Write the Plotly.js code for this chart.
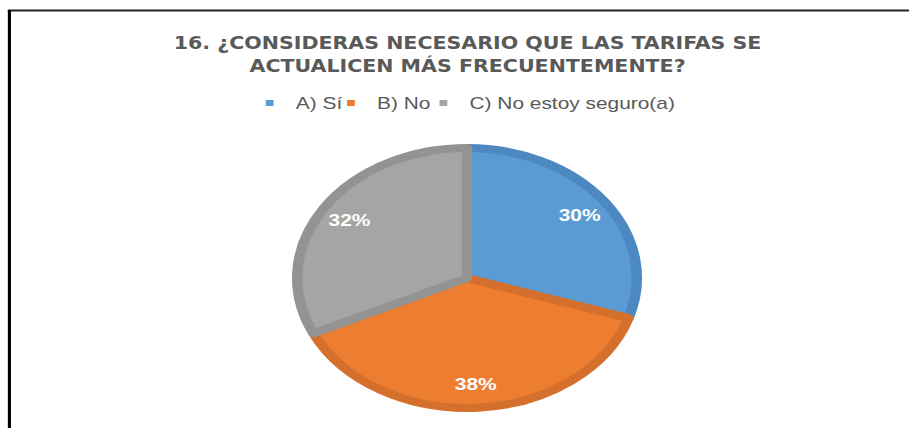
<!DOCTYPE html>
<html><head><meta charset="utf-8">
<script src="https://cdn.plot.ly/plotly-3.0.1.min.js"></script>
<style>
html,body{margin:0;padding:0;background:#fff;overflow:hidden;}
#wrap{width:909px;height:428px;overflow:hidden;position:relative;background:#fff;}
#chart{width:696px;height:428px;transform:scaleX(1.306);transform-origin:0 0;}
</style></head>
<body><div id="wrap"><div id="chart"></div></div>
<script>
const categories = ['A) Sí', 'B) No', 'C) No estoy seguro(a)'];
const values = [30, 38, 32];
const titleText = '16. ¿CONSIDERAS NECESARIO QUE LAS TARIFAS SE<br>ACTUALICEN MÁS FRECUENTEMENTE?';

const fillColors = ['#5B9BD5', '#ED7D31', '#A5A5A5'];
const lineColors = ['#4E88C0', '#D4702C', '#939393'];
const legendLefts = [186.5, 248.7, 319.5];

const W = 696, H = 428;
const cx = 357.6, cy = 278, r = 130;
const pieDomain = {x: [(cx - r) / W, (cx + r) / W], y: [1 - (cy + r) / H, 1 - (cy - r) / H]};

const pieFill = {
  type: 'pie',
  labels: categories,
  values: values,
  sort: false,
  direction: 'clockwise',
  rotation: 0,
  marker: {colors: fillColors, line: {color: lineColors, width: 8}},
  textinfo: 'none',
  hoverinfo: 'none',
  showlegend: false,
  domain: pieDomain
};

const pieText = {
  type: 'pie',
  labels: categories,
  values: values,
  sort: false,
  direction: 'clockwise',
  rotation: 0,
  hole: 0.64,
  marker: {colors: ['rgba(0,0,0,0)', 'rgba(0,0,0,0)', 'rgba(0,0,0,0)'], line: {width: 0}},
  textinfo: 'percent',
  texttemplate: '%{percent:.0%}',
  textposition: 'inside',
  insidetextorientation: 'horizontal',
  insidetextfont: {family: 'Liberation Sans, Arial, sans-serif', size: 16, color: '#FFFFFF', weight: 'bold'},
  hoverinfo: 'none',
  showlegend: false,
  domain: pieDomain
};

const legendNames = ['legend', 'legend2', 'legend3'];
const legendTraces = categories.map((c, i) => ({
  type: 'scatter',
  mode: 'markers',
  x: [null], y: [null],
  name: c,
  legend: legendNames[i],
  marker: {symbol: 'square', size: 6, color: fillColors[i]},
  hoverinfo: 'none',
  showlegend: true
}));

const layout = {
  width: W, height: H,
  margin: {l: 0, r: 0, t: 0, b: 0},
  paper_bgcolor: '#FFFFFF',
  plot_bgcolor: '#FFFFFF',
  xaxis: {visible: false},
  yaxis: {visible: false},
  title: {
    text: titleText,
    x: 358 / W, xanchor: 'center',
    y: 1 - 49 / H, yanchor: 'top',
    font: {family: '"DejaVu Sans Condensed", "Liberation Sans", sans-serif', size: 17.5, color: '#595959', weight: 'bold'}
  },
  showlegend: true,
  shapes: [
    {type: 'line', xref: 'paper', yref: 'paper', x0: 6 / W, x1: 1, y0: 1 - 10.5 / H, y1: 1 - 10.5 / H, line: {color: '#222222', width: 2}},
    {type: 'line', xref: 'paper', yref: 'paper', x0: 7.2 / W, x1: 7.2 / W, y0: 0, y1: 1 - 10 / H, line: {color: '#000000', width: 2.4}}
  ]
};

legendNames.forEach((name, i) => {
  layout[name] = {
    orientation: 'h',
    x: legendLefts[i] / W, xanchor: 'left',
    y: 1 - 103 / H, yanchor: 'middle',
    font: {family: 'Liberation Sans, Arial, sans-serif', size: 16, color: '#595959'},
    itemsizing: 'trace',
    itemclick: false,
    bgcolor: 'rgba(0,0,0,0)'
  };
});

Plotly.newPlot('chart', [pieFill, pieText, ...legendTraces], layout, {displayModeBar: false, staticPlot: true});
</script>
</body></html>
